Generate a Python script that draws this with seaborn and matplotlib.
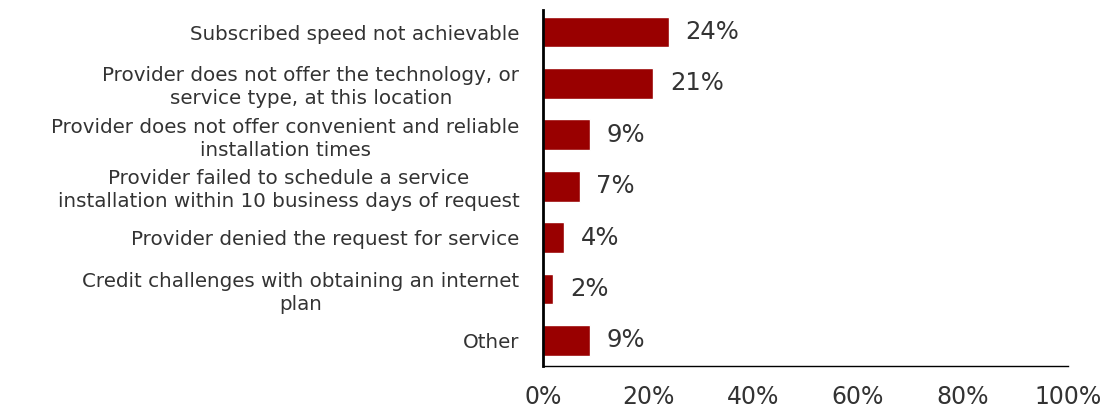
import matplotlib
matplotlib.use("Agg")
import matplotlib.pyplot as plt
import seaborn as sns
import pandas as pd
from matplotlib.ticker import FuncFormatter

reasons = [
    "Subscribed speed not achievable",
    "Provider does not offer the technology, or\nservice type, at this location",
    "Provider does not offer convenient and reliable\ninstallation times",
    "Provider failed to schedule a service\ninstallation within 10 business days of request",
    "Provider denied the request for service",
    "Credit challenges with obtaining an internet\nplan",
    "Other",
]
shares = [24, 21, 9, 7, 4, 2, 9]
x_ticks = [0, 20, 40, 60, 80, 100]

df = pd.DataFrame({"reason": reasons, "share": shares})

sns.set_theme(style="white")
plt.rcParams["font.family"] = ["DejaVu Sans"]

fig = plt.figure(figsize=(11.11, 4.13), dpi=100)
ax = fig.add_axes([0.4887, 0.1138, 0.9613 - 0.4887, 0.9758 - 0.1138])

bar_color = "#990000"
text_color = "#333333"

sns.barplot(data=df, x="share", y="reason", orient="h", color=bar_color,
            width=0.6, saturation=1, ax=ax)

for patch, val in zip(ax.patches, shares):
    y = patch.get_y() + patch.get_height() / 2
    ax.annotate(f"{val}%", xy=(val, y), xytext=(12, 0), textcoords="offset points",
                va="center", ha="left", fontsize=17.5, color=text_color)

ax.set_xlim(0, 100)
ax.set_ylim(6.5, -0.43)
ax.set_xticks(x_ticks)
ax.xaxis.set_major_formatter(FuncFormatter(lambda v, _: f"{v:.0f}%"))
ax.set_xlabel("")
ax.set_ylabel("")

ax.tick_params(axis="x", length=0, pad=14, labelsize=17, labelcolor=text_color)
ax.tick_params(axis="y", length=0, pad=17, labelsize=14.3, labelcolor=text_color)
for lbl in ax.get_yticklabels():
    lbl.set_multialignment("center")
    lbl.set_linespacing(1.25)

for side in ("top", "right"):
    ax.spines[side].set_visible(False)
ax.spines["left"].set_color("black")
ax.spines["left"].set_linewidth(2)
ax.spines["bottom"].set_color("black")
ax.spines["bottom"].set_linewidth(1)

fig.savefig("out.png", dpi=100, facecolor="white")
